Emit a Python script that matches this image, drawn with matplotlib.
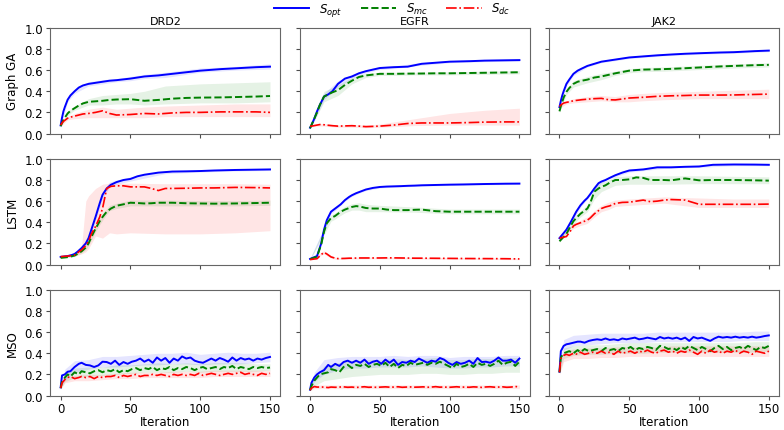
import numpy as np
import matplotlib
matplotlib.use("Agg")
import matplotlib.pyplot as plt

# iteration grids (one per row) and grids for the shaded bands
it_ga = [0, 1, 2, 3, 5, 7, 10, 13, 16, 20, 25, 30, 35, 40, 50, 60, 70, 80, 90, 100, 115, 125, 140, 150]
it_lstm = [0, 5, 8, 10, 12, 15, 18, 20, 22, 25, 28, 30, 33, 36, 40, 45, 50, 55, 60, 65, 70, 75, 80, 90,
           100, 110, 125, 140, 150]
it_mso = [0, 1, 3, 5, 7, 10, 13] + list(range(15, 151, 3))
band_ga = [0, 5, 10, 20, 30, 40, 50, 60, 75, 100, 125, 150]
band_lstm = [0, 10, 15, 18, 20, 25, 30, 35, 40, 50, 75, 100, 125, 150]
band_mso = [0, 3, 10, 20, 30, 40, 50, 60, 70, 80, 90, 100, 110, 120, 130, 140, 150]

targets = ["DRD2", "EGFR", "JAK2"]
methods = ["Graph GA", "LSTM", "MSO"]
labels = ["$S_{opt}$", "$S_{mc}$", "$S_{dc}$"]

# ---------------- Graph GA ----------------
ga_drd2_opt = [0.077, 0.15, 0.21, 0.25, 0.32, 0.36, 0.40, 0.435, 0.455, 0.47, 0.48, 0.49, 0.50, 0.505, 0.52,
               0.54, 0.55, 0.565, 0.58, 0.595, 0.61, 0.617, 0.628, 0.633]
ga_drd2_mc = [0.07, 0.10, 0.13, 0.15, 0.19, 0.215, 0.24, 0.265, 0.285, 0.30, 0.305, 0.31, 0.318, 0.322, 0.325,
              0.31, 0.318, 0.33, 0.337, 0.34, 0.342, 0.345, 0.35, 0.355]
ga_drd2_dc = [0.08, 0.10, 0.115, 0.125, 0.145, 0.155, 0.165, 0.175, 0.185, 0.19, 0.20, 0.215, 0.19, 0.175, 0.18,
              0.19, 0.185, 0.195, 0.20, 0.20, 0.205, 0.205, 0.205, 0.20]
ga_drd2_opt_lo = [0.07, 0.30, 0.38, 0.45, 0.47, 0.49, 0.50, 0.52, 0.53, 0.58, 0.60, 0.61]
ga_drd2_opt_hi = [0.09, 0.34, 0.42, 0.49, 0.51, 0.52, 0.54, 0.56, 0.58, 0.62, 0.635, 0.66]
ga_drd2_mc_lo = [0.06, 0.17, 0.22, 0.27, 0.27, 0.28, 0.28, 0.27, 0.28, 0.29, 0.29, 0.30]
ga_drd2_mc_hi = [0.08, 0.21, 0.26, 0.33, 0.36, 0.37, 0.38, 0.40, 0.45, 0.47, 0.48, 0.49]
ga_drd2_dc_lo = [0.07, 0.13, 0.14, 0.15, 0.15, 0.15, 0.15, 0.15, 0.16, 0.16, 0.16, 0.16]
ga_drd2_dc_hi = [0.09, 0.16, 0.19, 0.23, 0.25, 0.23, 0.24, 0.25, 0.26, 0.27, 0.28, 0.28]

ga_egfr_opt = [0.055, 0.08, 0.11, 0.14, 0.21, 0.27, 0.35, 0.37, 0.40, 0.47, 0.52, 0.54, 0.57, 0.59, 0.62,
               0.628, 0.633, 0.66, 0.67, 0.68, 0.685, 0.69, 0.693, 0.695]
ga_egfr_mc = [0.05, 0.08, 0.11, 0.14, 0.20, 0.27, 0.35, 0.37, 0.39, 0.41, 0.46, 0.50, 0.535, 0.55, 0.565,
              0.565, 0.567, 0.568, 0.57, 0.57, 0.573, 0.575, 0.578, 0.58]
ga_egfr_dc = [0.07, 0.07, 0.072, 0.075, 0.08, 0.085, 0.083, 0.078, 0.074, 0.07, 0.072, 0.074, 0.07, 0.065, 0.07,
              0.08, 0.095, 0.10, 0.10, 0.10, 0.104, 0.108, 0.11, 0.11]
ga_egfr_opt_lo = [0.05, 0.18, 0.32, 0.44, 0.52, 0.575, 0.605, 0.615, 0.64, 0.67, 0.68, 0.685]
ga_egfr_opt_hi = [0.06, 0.24, 0.38, 0.50, 0.56, 0.605, 0.635, 0.64, 0.665, 0.69, 0.70, 0.705]
ga_egfr_mc_lo = [0.045, 0.17, 0.30, 0.36, 0.47, 0.53, 0.55, 0.55, 0.555, 0.555, 0.56, 0.565]
ga_egfr_mc_hi = [0.055, 0.23, 0.40, 0.46, 0.53, 0.57, 0.58, 0.58, 0.58, 0.585, 0.59, 0.595]
ga_egfr_dc_lo = [0.06, 0.07, 0.07, 0.06, 0.06, 0.055, 0.06, 0.065, 0.075, 0.08, 0.08, 0.08]
ga_egfr_dc_hi = [0.08, 0.09, 0.095, 0.08, 0.085, 0.08, 0.09, 0.11, 0.14, 0.19, 0.22, 0.24]

ga_jak2_opt = [0.25, 0.31, 0.36, 0.40, 0.47, 0.51, 0.565, 0.595, 0.615, 0.64, 0.66, 0.68, 0.69, 0.70, 0.72,
               0.73, 0.74, 0.748, 0.755, 0.76, 0.767, 0.77, 0.78, 0.785]
ga_jak2_mc = [0.21, 0.26, 0.30, 0.34, 0.395, 0.43, 0.47, 0.49, 0.50, 0.51, 0.53, 0.54, 0.555, 0.57, 0.595,
              0.605, 0.608, 0.612, 0.618, 0.625, 0.635, 0.64, 0.647, 0.65]
ga_jak2_dc = [0.256, 0.27, 0.28, 0.288, 0.295, 0.30, 0.31, 0.315, 0.32, 0.325, 0.33, 0.333, 0.32, 0.318, 0.336,
              0.343, 0.352, 0.357, 0.36, 0.364, 0.364, 0.365, 0.37, 0.373]
ga_jak2_opt_lo = [0.24, 0.45, 0.55, 0.63, 0.67, 0.69, 0.71, 0.72, 0.735, 0.75, 0.76, 0.775]
ga_jak2_opt_hi = [0.26, 0.49, 0.58, 0.65, 0.69, 0.71, 0.73, 0.74, 0.755, 0.77, 0.78, 0.795]
ga_jak2_mc_lo = [0.20, 0.37, 0.44, 0.48, 0.51, 0.55, 0.575, 0.585, 0.59, 0.605, 0.62, 0.63]
ga_jak2_mc_hi = [0.22, 0.42, 0.50, 0.54, 0.57, 0.59, 0.615, 0.625, 0.63, 0.645, 0.66, 0.67]
ga_jak2_dc_lo = [0.24, 0.28, 0.29, 0.30, 0.31, 0.30, 0.30, 0.31, 0.32, 0.33, 0.33, 0.33]
ga_jak2_dc_hi = [0.27, 0.31, 0.33, 0.35, 0.36, 0.35, 0.37, 0.38, 0.39, 0.40, 0.41, 0.42]

# ---------------- LSTM ----------------
lstm_drd2_opt = [0.072, 0.08, 0.09, 0.10, 0.12, 0.156, 0.20, 0.25, 0.33, 0.45, 0.58, 0.66, 0.72, 0.755, 0.78,
                 0.80, 0.81, 0.835, 0.85, 0.86, 0.87, 0.875, 0.88, 0.882, 0.885, 0.89, 0.895, 0.898, 0.90]
lstm_drd2_mc = [0.063, 0.07, 0.078, 0.085, 0.10, 0.125, 0.16, 0.20, 0.26, 0.34, 0.41, 0.45, 0.50, 0.53, 0.556,
                0.57, 0.585, 0.582, 0.578, 0.58, 0.585, 0.585, 0.585, 0.58, 0.578, 0.576, 0.578, 0.582, 0.585]
lstm_drd2_dc = [0.075, 0.08, 0.085, 0.09, 0.11, 0.14, 0.18, 0.22, 0.29, 0.36, 0.45, 0.53, 0.72, 0.74, 0.745,
                0.745, 0.735, 0.735, 0.735, 0.72, 0.70, 0.72, 0.72, 0.722, 0.725, 0.725, 0.73, 0.728, 0.725]
lstm_drd2_opt_lo = [0.065, 0.09, 0.14, 0.18, 0.23, 0.42, 0.63, 0.73, 0.76, 0.79, 0.86, 0.875, 0.885, 0.89]
lstm_drd2_opt_hi = [0.08, 0.11, 0.17, 0.22, 0.27, 0.48, 0.69, 0.78, 0.80, 0.83, 0.885, 0.895, 0.905, 0.91]
lstm_drd2_mc_lo = [0.055, 0.075, 0.11, 0.14, 0.18, 0.31, 0.42, 0.51, 0.53, 0.555, 0.555, 0.555, 0.555, 0.56]
lstm_drd2_mc_hi = [0.07, 0.095, 0.14, 0.18, 0.22, 0.37, 0.48, 0.56, 0.58, 0.61, 0.61, 0.605, 0.605, 0.61]
lstm_drd2_dc_lo = [0.065, 0.08, 0.10, 0.12, 0.15, 0.27, 0.25, 0.30, 0.29, 0.30, 0.29, 0.29, 0.30, 0.32]
lstm_drd2_dc_hi = [0.085, 0.10, 0.17, 0.60, 0.65, 0.72, 0.76, 0.77, 0.77, 0.77, 0.765, 0.765, 0.765, 0.76]

lstm_egfr_opt = [0.053, 0.08, 0.20, 0.33, 0.42, 0.50, 0.53, 0.55, 0.57, 0.61, 0.64, 0.656, 0.675, 0.69, 0.71,
                 0.725, 0.734, 0.738, 0.74, 0.742, 0.745, 0.747, 0.75, 0.753, 0.756, 0.758, 0.762, 0.765, 0.766]
lstm_egfr_mc = [0.05, 0.075, 0.19, 0.31, 0.39, 0.44, 0.46, 0.48, 0.50, 0.52, 0.535, 0.545, 0.553, 0.548, 0.535,
                0.53, 0.53, 0.52, 0.515, 0.515, 0.515, 0.518, 0.52, 0.505, 0.50, 0.50, 0.50, 0.50, 0.50]
lstm_egfr_dc = [0.047, 0.055, 0.094, 0.115, 0.10, 0.072, 0.06, 0.056, 0.057, 0.058, 0.06, 0.06, 0.061, 0.062,
                0.062, 0.062, 0.062, 0.063, 0.063, 0.062, 0.061, 0.06, 0.06, 0.059, 0.058, 0.057, 0.056, 0.055,
                0.053]
lstm_egfr_opt_lo = [0.045, 0.31, 0.48, 0.51, 0.535, 0.60, 0.645, 0.675, 0.70, 0.725, 0.74, 0.748, 0.755, 0.758]
lstm_egfr_opt_hi = [0.06, 0.35, 0.52, 0.55, 0.565, 0.62, 0.665, 0.695, 0.72, 0.743, 0.755, 0.764, 0.77, 0.774]
lstm_egfr_mc_lo = [0.045, 0.28, 0.41, 0.43, 0.45, 0.49, 0.515, 0.515, 0.50, 0.50, 0.495, 0.48, 0.48, 0.48]
lstm_egfr_mc_hi = [0.055, 0.34, 0.47, 0.49, 0.51, 0.55, 0.575, 0.585, 0.57, 0.56, 0.545, 0.525, 0.525, 0.525]
lstm_egfr_dc_lo = [0.04, 0.10, 0.06, 0.05, 0.048, 0.05, 0.052, 0.053, 0.054, 0.054, 0.052, 0.05, 0.048, 0.046]
lstm_egfr_dc_hi = [0.055, 0.13, 0.085, 0.07, 0.064, 0.066, 0.068, 0.07, 0.07, 0.07, 0.068, 0.066, 0.064, 0.06]

lstm_jak2_opt = [0.25, 0.33, 0.40, 0.45, 0.50, 0.56, 0.605, 0.63, 0.665, 0.72, 0.77, 0.785, 0.80, 0.82, 0.845,
                 0.87, 0.89, 0.895, 0.90, 0.91, 0.92, 0.92, 0.92, 0.925, 0.928, 0.944, 0.947, 0.946, 0.944]
lstm_jak2_mc = [0.22, 0.29, 0.365, 0.41, 0.44, 0.48, 0.51, 0.53, 0.58, 0.69, 0.72, 0.735, 0.75, 0.775, 0.80,
                0.80, 0.806, 0.825, 0.82, 0.80, 0.80, 0.80, 0.797, 0.815, 0.797, 0.80, 0.80, 0.797, 0.794]
lstm_jak2_dc = [0.25, 0.265, 0.32, 0.365, 0.38, 0.395, 0.41, 0.42, 0.44, 0.48, 0.51, 0.53, 0.545, 0.555, 0.578,
                0.588, 0.59, 0.60, 0.61, 0.595, 0.60, 0.61, 0.615, 0.61, 0.57, 0.57, 0.57, 0.57, 0.572]
lstm_jak2_opt_lo = [0.24, 0.43, 0.54, 0.59, 0.62, 0.70, 0.77, 0.81, 0.83, 0.875, 0.91, 0.92, 0.935, 0.935]
lstm_jak2_opt_hi = [0.26, 0.47, 0.58, 0.62, 0.645, 0.74, 0.80, 0.83, 0.86, 0.905, 0.93, 0.94, 0.955, 0.955]
lstm_jak2_mc_lo = [0.21, 0.38, 0.45, 0.48, 0.50, 0.62, 0.69, 0.72, 0.75, 0.76, 0.76, 0.765, 0.765, 0.765]
lstm_jak2_mc_hi = [0.23, 0.44, 0.51, 0.54, 0.56, 0.73, 0.78, 0.80, 0.83, 0.84, 0.84, 0.84, 0.835, 0.83]
lstm_jak2_dc_lo = [0.24, 0.34, 0.37, 0.38, 0.39, 0.45, 0.50, 0.52, 0.55, 0.56, 0.58, 0.54, 0.54, 0.54]
lstm_jak2_dc_hi = [0.26, 0.39, 0.42, 0.44, 0.45, 0.51, 0.56, 0.59, 0.61, 0.62, 0.64, 0.63, 0.62, 0.62]

# ---------------- MSO ----------------
mso_drd2_opt = [0.077, 0.19, 0.20, 0.225, 0.23, 0.27, 0.30,
                0.31, 0.29, 0.285, 0.27, 0.285, 0.32, 0.317, 0.30, 0.33, 0.29,
                0.317, 0.30, 0.32, 0.33, 0.35, 0.32, 0.34, 0.31, 0.36, 0.33,
                0.355, 0.31, 0.35, 0.33, 0.37, 0.35, 0.36, 0.33, 0.317, 0.31,
                0.33, 0.35, 0.33, 0.355, 0.34, 0.32, 0.36, 0.33, 0.355, 0.34,
                0.35, 0.33, 0.35, 0.34, 0.355, 0.365]
mso_drd2_mc = [0.07, 0.13, 0.17, 0.20, 0.18, 0.22, 0.20,
               0.23, 0.22, 0.21, 0.23, 0.24, 0.22, 0.24, 0.23, 0.25, 0.22,
               0.24, 0.23, 0.25, 0.26, 0.24, 0.26, 0.25, 0.27, 0.24, 0.26,
               0.25, 0.27, 0.24, 0.26, 0.25, 0.27, 0.26, 0.24, 0.26, 0.27,
               0.25, 0.26, 0.27, 0.25, 0.27, 0.26, 0.28, 0.25, 0.27, 0.26,
               0.25, 0.27, 0.26, 0.27, 0.26, 0.265]
mso_drd2_dc = [0.07, 0.12, 0.15, 0.17, 0.18, 0.16, 0.17,
               0.18, 0.17, 0.18, 0.16, 0.18, 0.17, 0.18, 0.18, 0.19, 0.17,
               0.19, 0.18, 0.19, 0.20, 0.18, 0.19, 0.19, 0.20, 0.19, 0.20,
               0.19, 0.18, 0.20, 0.19, 0.20, 0.19, 0.20, 0.19, 0.21, 0.19,
               0.20, 0.21, 0.20, 0.19, 0.20, 0.21, 0.20, 0.21, 0.22, 0.20,
               0.21, 0.20, 0.19, 0.21, 0.20, 0.21]
mso_drd2_opt_lo = [0.07, 0.15, 0.22, 0.25, 0.27, 0.27, 0.28, 0.29, 0.29, 0.30, 0.30, 0.29, 0.30, 0.30, 0.30, 0.31, 0.32]
mso_drd2_opt_hi = [0.09, 0.25, 0.33, 0.34, 0.37, 0.37, 0.38, 0.39, 0.40, 0.40, 0.41, 0.39, 0.40, 0.41, 0.40, 0.40, 0.41]
mso_drd2_mc_lo = [0.06, 0.13, 0.17, 0.18, 0.19, 0.20, 0.21, 0.22, 0.22, 0.22, 0.23, 0.22, 0.23, 0.23, 0.23, 0.23, 0.24]
mso_drd2_mc_hi = [0.08, 0.20, 0.26, 0.27, 0.27, 0.29, 0.29, 0.30, 0.31, 0.30, 0.31, 0.30, 0.31, 0.31, 0.31, 0.30, 0.30]
mso_drd2_dc_lo = [0.06, 0.12, 0.14, 0.14, 0.15, 0.16, 0.16, 0.17, 0.17, 0.17, 0.17, 0.17, 0.18, 0.18, 0.18, 0.18, 0.18]
mso_drd2_dc_hi = [0.08, 0.18, 0.19, 0.20, 0.20, 0.21, 0.22, 0.22, 0.22, 0.23, 0.23, 0.23, 0.24, 0.24, 0.24, 0.24, 0.24]

mso_egfr_opt = [0.055, 0.12, 0.17, 0.20, 0.22, 0.24, 0.29,
                0.27, 0.30, 0.28, 0.317, 0.33, 0.31, 0.33, 0.31, 0.34, 0.30,
                0.32, 0.33, 0.30, 0.34, 0.31, 0.34, 0.29, 0.317, 0.31, 0.33,
                0.317, 0.35, 0.33, 0.31, 0.33, 0.32, 0.355, 0.34, 0.31, 0.29,
                0.317, 0.30, 0.31, 0.33, 0.30, 0.355, 0.317, 0.32, 0.31, 0.33,
                0.36, 0.33, 0.33, 0.34, 0.31, 0.35]
mso_egfr_mc = [0.05, 0.09, 0.14, 0.17, 0.20, 0.21, 0.22,
               0.25, 0.24, 0.22, 0.27, 0.29, 0.26, 0.29, 0.28, 0.30, 0.27,
               0.29, 0.30, 0.28, 0.31, 0.27, 0.30, 0.26, 0.29, 0.28, 0.31,
               0.29, 0.30, 0.31, 0.29, 0.31, 0.30, 0.32, 0.30, 0.28, 0.26,
               0.30, 0.27, 0.28, 0.30, 0.27, 0.31, 0.29, 0.30, 0.28, 0.30,
               0.33, 0.29, 0.31, 0.32, 0.28, 0.32]
mso_egfr_dc = [0.05, 0.07, 0.085, 0.08, 0.08, 0.08, 0.075,
               0.08, 0.078, 0.08, 0.082, 0.078, 0.08, 0.076, 0.08, 0.083, 0.078,
               0.08, 0.077, 0.08, 0.082, 0.079, 0.08, 0.083, 0.078, 0.08, 0.081,
               0.079, 0.08, 0.082, 0.078, 0.08, 0.084, 0.079, 0.081, 0.077, 0.08,
               0.083, 0.079, 0.08, 0.078, 0.082, 0.08, 0.077, 0.081, 0.083, 0.079,
               0.08, 0.082, 0.078, 0.08, 0.086, 0.08]
mso_egfr_opt_lo = [0.05, 0.13, 0.20, 0.24, 0.26, 0.26, 0.27, 0.27, 0.27, 0.28, 0.27, 0.26, 0.26, 0.27, 0.27, 0.28, 0.28]
mso_egfr_opt_hi = [0.06, 0.22, 0.34, 0.36, 0.37, 0.37, 0.37, 0.38, 0.37, 0.38, 0.38, 0.36, 0.37, 0.37, 0.37, 0.38, 0.38]
mso_egfr_mc_lo = [0.045, 0.09, 0.14, 0.16, 0.18, 0.19, 0.20, 0.20, 0.20, 0.21, 0.21, 0.20, 0.20, 0.21, 0.21, 0.22, 0.22]
mso_egfr_mc_hi = [0.055, 0.17, 0.28, 0.31, 0.33, 0.34, 0.34, 0.35, 0.34, 0.35, 0.36, 0.34, 0.34, 0.35, 0.35, 0.36, 0.36]
mso_egfr_dc_lo = [0.045, 0.065, 0.065, 0.065, 0.065, 0.065, 0.065, 0.065, 0.065, 0.065, 0.065, 0.065, 0.065, 0.065,
                  0.065, 0.065, 0.065]
mso_egfr_dc_hi = [0.055, 0.10, 0.10, 0.10, 0.10, 0.10, 0.10, 0.10, 0.10, 0.10, 0.10, 0.10, 0.10, 0.10, 0.10, 0.10,
                  0.10]

mso_jak2_opt = [0.225, 0.42, 0.47, 0.485, 0.49, 0.50, 0.51,
                0.51, 0.50, 0.517, 0.526, 0.532, 0.526, 0.54, 0.526, 0.532, 0.523,
                0.54, 0.532, 0.54, 0.548, 0.532, 0.538, 0.548, 0.54, 0.532, 0.554,
                0.54, 0.548, 0.538, 0.548, 0.532, 0.548, 0.517, 0.554, 0.54, 0.548,
                0.532, 0.517, 0.54, 0.557, 0.548, 0.554, 0.548, 0.557, 0.548, 0.554,
                0.548, 0.557, 0.548, 0.554, 0.563, 0.569]
mso_jak2_mc = [0.22, 0.36, 0.40, 0.41, 0.42, 0.40, 0.43,
               0.41, 0.44, 0.42, 0.43, 0.44, 0.42, 0.45, 0.43, 0.44, 0.42,
               0.45, 0.44, 0.46, 0.43, 0.45, 0.44, 0.46, 0.45, 0.43, 0.47,
               0.46, 0.44, 0.45, 0.43, 0.46, 0.44, 0.47, 0.45, 0.43, 0.46,
               0.44, 0.42, 0.45, 0.47, 0.44, 0.46, 0.43, 0.45, 0.46, 0.44,
               0.47, 0.45, 0.43, 0.46, 0.45, 0.47]
mso_jak2_dc = [0.22, 0.35, 0.38, 0.39, 0.38, 0.40, 0.39,
               0.41, 0.39, 0.40, 0.41, 0.40, 0.42, 0.40, 0.41, 0.39, 0.42,
               0.40, 0.41, 0.42, 0.40, 0.42, 0.41, 0.43, 0.41, 0.40, 0.42,
               0.43, 0.41, 0.42, 0.40, 0.42, 0.41, 0.43, 0.41, 0.39, 0.42,
               0.40, 0.43, 0.41, 0.42, 0.40, 0.42, 0.41, 0.43, 0.40, 0.42,
               0.41, 0.39, 0.42, 0.41, 0.40, 0.42]
mso_jak2_opt_lo = [0.21, 0.43, 0.47, 0.48, 0.49, 0.50, 0.50, 0.50, 0.51, 0.51, 0.51, 0.51, 0.51, 0.51, 0.52, 0.52, 0.52]
mso_jak2_opt_hi = [0.24, 0.53, 0.57, 0.58, 0.59, 0.59, 0.59, 0.59, 0.60, 0.60, 0.60, 0.60, 0.60, 0.60, 0.60, 0.61, 0.61]
mso_jak2_mc_lo = [0.21, 0.35, 0.38, 0.39, 0.39, 0.40, 0.40, 0.40, 0.41, 0.41, 0.41, 0.41, 0.41, 0.41, 0.41, 0.41, 0.42]
mso_jak2_mc_hi = [0.23, 0.45, 0.47, 0.48, 0.48, 0.49, 0.50, 0.50, 0.50, 0.50, 0.50, 0.50, 0.50, 0.50, 0.50, 0.51, 0.51]
mso_jak2_dc_lo = [0.20, 0.32, 0.35, 0.35, 0.36, 0.36, 0.37, 0.37, 0.37, 0.37, 0.37, 0.37, 0.37, 0.37, 0.37, 0.37, 0.37]
mso_jak2_dc_hi = [0.24, 0.42, 0.44, 0.45, 0.45, 0.46, 0.46, 0.46, 0.46, 0.47, 0.47, 0.47, 0.47, 0.47, 0.47, 0.47, 0.47]

# rows -> (iteration grid, band grid, panel data per target)
rows = [
    (it_ga, band_ga, [
        [(ga_drd2_opt, ga_drd2_opt_lo, ga_drd2_opt_hi), (ga_drd2_mc, ga_drd2_mc_lo, ga_drd2_mc_hi),
         (ga_drd2_dc, ga_drd2_dc_lo, ga_drd2_dc_hi)],
        [(ga_egfr_opt, ga_egfr_opt_lo, ga_egfr_opt_hi), (ga_egfr_mc, ga_egfr_mc_lo, ga_egfr_mc_hi),
         (ga_egfr_dc, ga_egfr_dc_lo, ga_egfr_dc_hi)],
        [(ga_jak2_opt, ga_jak2_opt_lo, ga_jak2_opt_hi), (ga_jak2_mc, ga_jak2_mc_lo, ga_jak2_mc_hi),
         (ga_jak2_dc, ga_jak2_dc_lo, ga_jak2_dc_hi)]]),
    (it_lstm, band_lstm, [
        [(lstm_drd2_opt, lstm_drd2_opt_lo, lstm_drd2_opt_hi), (lstm_drd2_mc, lstm_drd2_mc_lo, lstm_drd2_mc_hi),
         (lstm_drd2_dc, lstm_drd2_dc_lo, lstm_drd2_dc_hi)],
        [(lstm_egfr_opt, lstm_egfr_opt_lo, lstm_egfr_opt_hi), (lstm_egfr_mc, lstm_egfr_mc_lo, lstm_egfr_mc_hi),
         (lstm_egfr_dc, lstm_egfr_dc_lo, lstm_egfr_dc_hi)],
        [(lstm_jak2_opt, lstm_jak2_opt_lo, lstm_jak2_opt_hi), (lstm_jak2_mc, lstm_jak2_mc_lo, lstm_jak2_mc_hi),
         (lstm_jak2_dc, lstm_jak2_dc_lo, lstm_jak2_dc_hi)]]),
    (it_mso, band_mso, [
        [(mso_drd2_opt, mso_drd2_opt_lo, mso_drd2_opt_hi), (mso_drd2_mc, mso_drd2_mc_lo, mso_drd2_mc_hi),
         (mso_drd2_dc, mso_drd2_dc_lo, mso_drd2_dc_hi)],
        [(mso_egfr_opt, mso_egfr_opt_lo, mso_egfr_opt_hi), (mso_egfr_mc, mso_egfr_mc_lo, mso_egfr_mc_hi),
         (mso_egfr_dc, mso_egfr_dc_lo, mso_egfr_dc_hi)],
        [(mso_jak2_opt, mso_jak2_opt_lo, mso_jak2_opt_hi), (mso_jak2_mc, mso_jak2_mc_lo, mso_jak2_mc_hi),
         (mso_jak2_dc, mso_jak2_dc_lo, mso_jak2_dc_hi)]]),
]

colors = ["blue", "green", "red"]
styles = ["-", "--", "-."]
widths = [1.4, 1.4, 1.2]

fig, axes = plt.subplots(3, 3, figsize=(7.84, 4.31), dpi=100, sharex=True, sharey=True)
fig.subplots_adjust(left=0.064, right=0.994, top=0.933, bottom=0.08, wspace=0.083, hspace=0.24)

handles = []
for r, (xs, xb, panels) in enumerate(rows):
    for c, series in enumerate(panels):
        ax = axes[r, c]
        for k, (mean, lo, hi) in enumerate(series):
            ax.fill_between(xb, lo, hi, color=colors[k], alpha=0.1, linewidth=0)
            ln, = ax.plot(xs, mean, color=colors[k], linestyle=styles[k], linewidth=widths[k], label=labels[k])
            if r == 0 and c == 0:
                handles.append(ln)
        ax.set_ylim(0, 1.0)
        ax.set_xticks([0, 50, 100, 150])
        ax.set_yticks([0.0, 0.2, 0.4, 0.6, 0.8, 1.0])
        ax.tick_params(labelsize=8.5, color="0.3", length=3, pad=2)
        for s in ax.spines.values():
            s.set_color("0.4")
        if r == 0:
            ax.set_title(targets[c], fontsize=8, pad=3)
        if c == 0:
            ax.set_ylabel(methods[r], fontsize=8.5)
        if r == 2:
            ax.set_xlabel("Iteration", fontsize=8.5, labelpad=0)

fig.legend(handles=handles, labels=labels, loc="upper center", bbox_to_anchor=(0.5, 1.0), ncol=3,
           frameon=False, fontsize=8.5, handlelength=3.0, columnspacing=1.6,
           borderaxespad=0.0, borderpad=0.15)

fig.savefig("out.png", dpi=100)
